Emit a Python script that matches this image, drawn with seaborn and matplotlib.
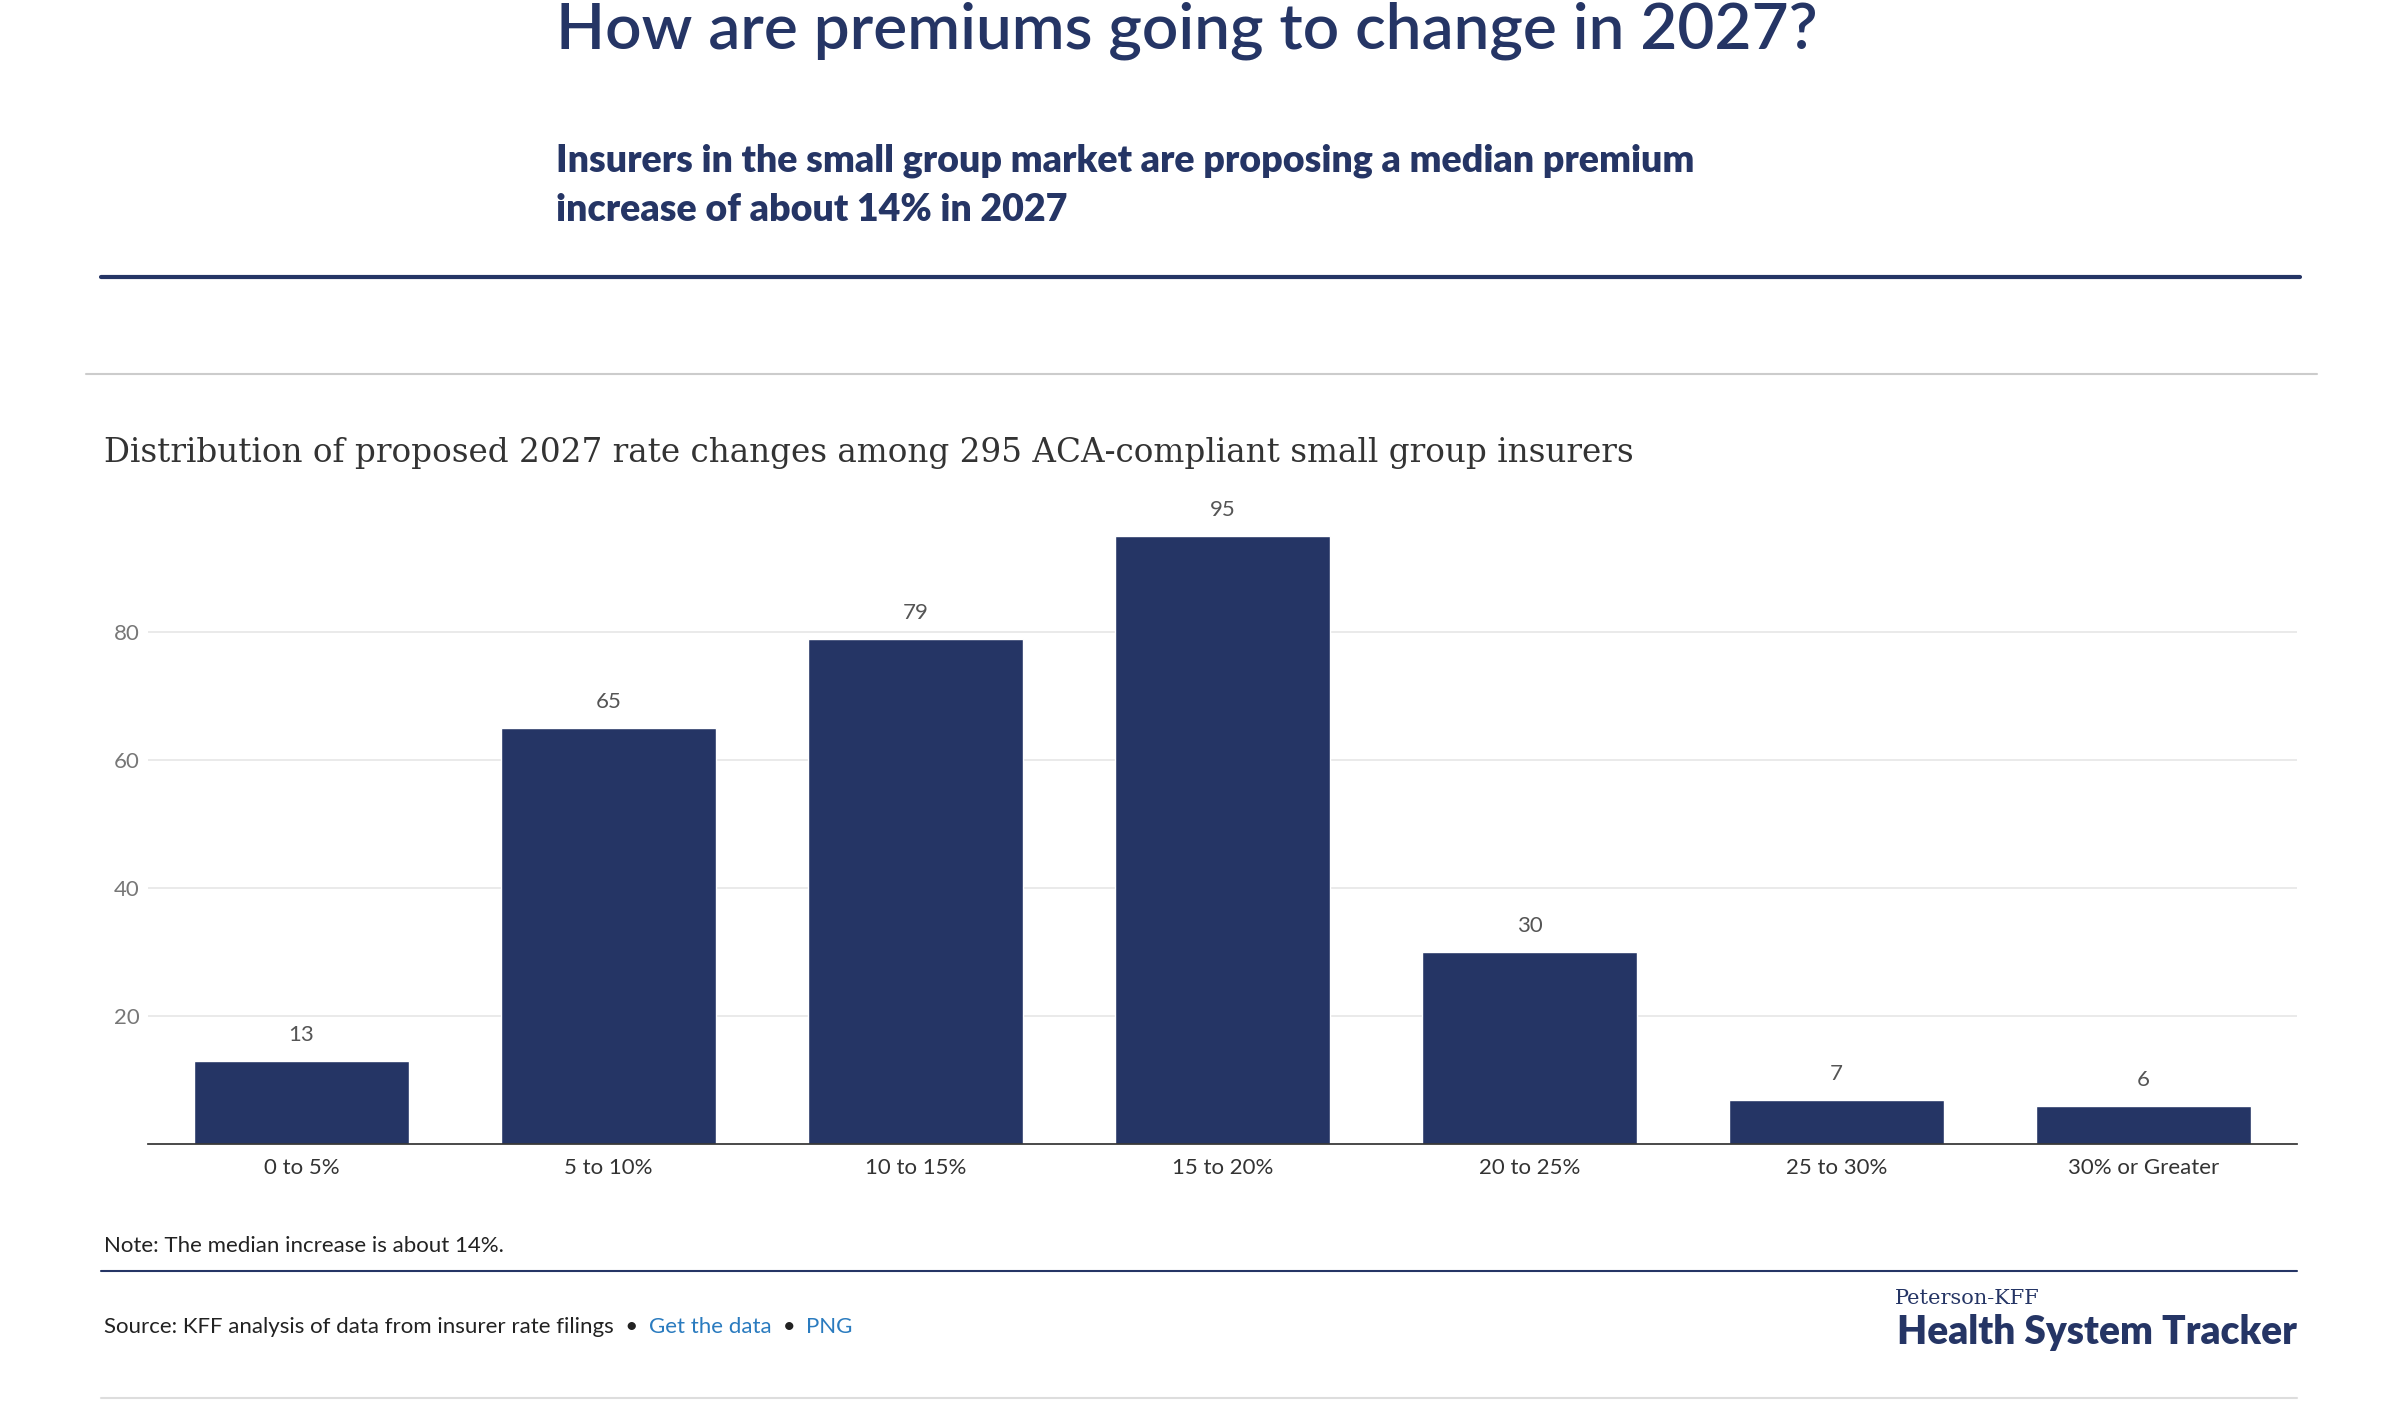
import matplotlib
matplotlib.use("Agg")
import matplotlib.pyplot as plt
import seaborn as sns
import pandas as pd
from matplotlib.lines import Line2D

categories = ["0 to 5%", "5 to 10%", "10 to 15%", "15 to 20%", "20 to 25%", "25 to 30%", "30% or Greater"]
counts = [13, 65, 79, 95, 30, 7, 6]
yticks = [20, 40, 60, 80]

sns.set_theme(style="white")
plt.rcParams['font.family'] = ['Lato', 'DejaVu Sans']

W, H = 1545, 903
fig = plt.figure(figsize=(24.06, 14.06), dpi=100)
fx = lambda x: x / W
fy = lambda y: 1 - y / H
navy = "#253565"

fig.text(fx(357), fy(20), "How are premiums going to change in 2027?", fontsize=46,
         color=navy, va="center", ha="left", fontweight="semibold")
fig.text(fx(357), fy(119), "Insurers in the small group market are proposing a median premium\nincrease of about 14% in 2027",
         fontsize=27, color=navy, va="center", ha="left", fontweight="heavy", linespacing=1.55)
fig.add_artist(Line2D([fx(65), fx(1477)], [fy(178), fy(178)], color=navy, lw=3))
fig.add_artist(Line2D([fx(55), fx(1488)], [fy(240), fy(240)], color="#cccccc", lw=1.5))
fig.text(fx(67), fy(291), "Distribution of proposed 2027 rate changes among 295 ACA-compliant small group insurers",
         fontsize=23.5, family="DejaVu Serif", color="#333333", va="center", ha="left")

ax = fig.add_axes([fx(95), fy(735), fx(1475) - fx(95), (735 - 324) / H])
df = pd.DataFrame({"cat": categories, "n": counts})
sns.barplot(data=df, x="cat", y="n", color=navy, saturation=1, width=0.7, ax=ax)
ax.set_ylim(0, 100)
ax.set_yticks(yticks)
ax.grid(axis="y", color="#e6e6e6", lw=1.2)
ax.set_axisbelow(True)
for s in ["top", "right", "left"]:
    ax.spines[s].set_visible(False)
ax.spines["bottom"].set_color("#333333")
ax.tick_params(axis="y", length=0, labelsize=16, labelcolor="#777777", pad=6)
ax.tick_params(axis="x", length=0, labelsize=16, labelcolor="#333333", pad=10)
ax.set_xlabel("")
ax.set_ylabel("")
for i, v in enumerate(counts):
    ax.text(i, v + 2.5, str(v), ha="center", va="bottom", fontsize=16, color="#555555")

fig.text(fx(67), fy(800), "Note: The median increase is about 14%.", fontsize=16, color="#222222", va="center")
fig.add_artist(Line2D([fx(65), fx(1475)], [fy(816), fy(816)], color=navy, lw=1.5))

renderer = fig.canvas.get_renderer()
x = fx(67)
for txt, col in [("Source: KFF analysis of data from insurer rate filings  \u2022 ", "#222222"),
                 ("Get the data", "#2a7bbf"), (" \u2022 ", "#222222"), ("PNG", "#2a7bbf")]:
    t = fig.text(x, fy(852), txt, fontsize=16, color=col, va="center")
    bb = t.get_window_extent(renderer)
    x += bb.width / fig.bbox.width + 0.002
fig.text(fx(1217), fy(834), "Peterson-KFF", fontsize=15, family="DejaVu Serif", color=navy, va="center")
fig.text(fx(1475), fy(856), "Health System Tracker", fontsize=28, fontweight="heavy", color=navy, va="center", ha="right")
fig.add_artist(Line2D([fx(65), fx(1475)], [fy(898), fy(898)], color="#dddddd", lw=1.5))

fig.savefig("out.png", dpi=100)
